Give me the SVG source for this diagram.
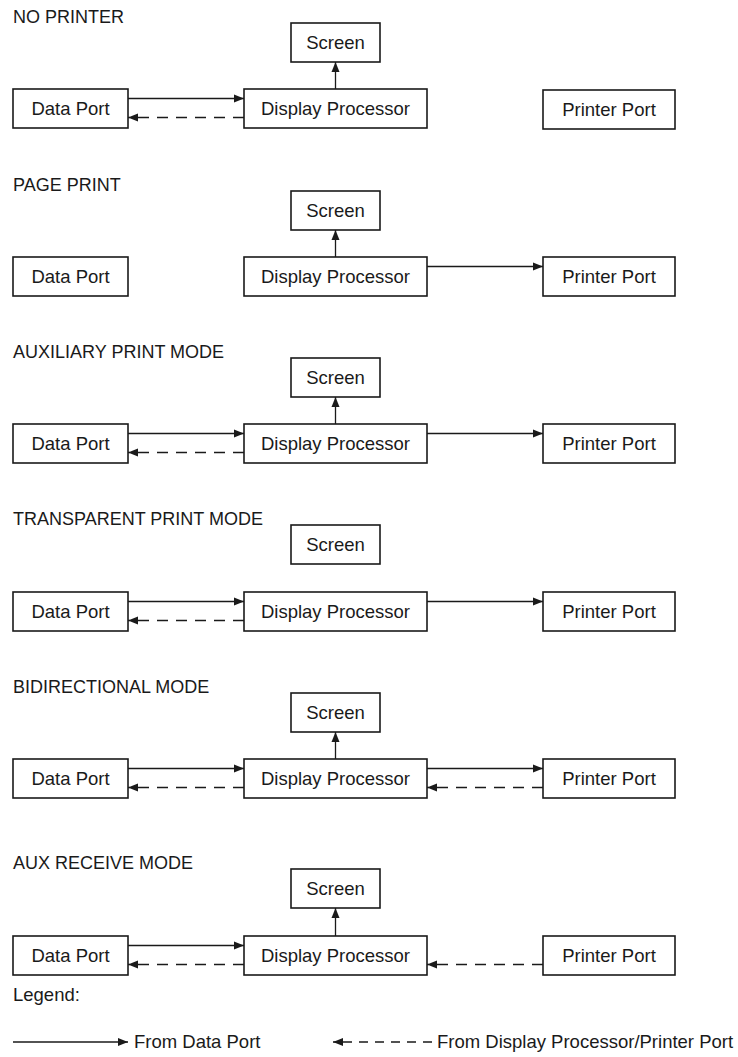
<svg xmlns="http://www.w3.org/2000/svg" width="738" height="1057" viewBox="0 0 738 1057">
<style>
text{font-family:"Liberation Sans",Arial,sans-serif;fill:#1a1a1a}
.t{font-size:18px}
.b{font-size:18.5px;text-anchor:middle}
.l{font-size:18.5px}
rect{fill:#fff;stroke:#1a1a1a;stroke-width:1.6}
.s{fill:none;stroke:#1a1a1a;stroke-width:1.3;marker-end:url(#ah)}
.d{fill:none;stroke:#1a1a1a;stroke-width:1.3;stroke-dasharray:11 8;marker-end:url(#ah)}
.dl{fill:none;stroke:#1a1a1a;stroke-width:1.3;stroke-dasharray:9 7;marker-end:url(#ah)}
</style>
<defs>
<marker id="ah" markerUnits="userSpaceOnUse" markerWidth="10" markerHeight="9" refX="10" refY="4.5" orient="auto">
<path d="M0,0.5 L10,4.5 L0,8.5 z" fill="#1a1a1a"/>
</marker>
</defs>
<rect x="0" y="0" width="738" height="1057" style="fill:#fff;stroke:none"/>

<g id="titles">
<text class="t" x="13" y="23">NO PRINTER</text>
<text class="t" x="13" y="191">PAGE PRINT</text>
<text class="t" x="13" y="358">AUXILIARY PRINT MODE</text>
<text class="t" x="13" y="525">TRANSPARENT PRINT MODE</text>
<text class="t" x="13" y="693">BIDIRECTIONAL MODE</text>
<text class="t" x="13" y="869">AUX RECEIVE MODE</text>
</g>

<!-- Section 1: NO PRINTER -->
<g id="s1-screen"><rect x="291" y="23" width="89" height="39"/><text class="b" x="335.5" y="49">Screen</text></g>
<g id="s1-data"><rect x="13" y="89" width="115" height="39"/><text class="b" x="70.5" y="115">Data Port</text></g>
<g id="s1-dp"><rect x="244" y="89" width="183" height="39"/><text class="b" x="335.5" y="115">Display Processor</text></g>
<g id="s1-pp"><rect x="543" y="90" width="132" height="39"/><text class="b" x="609" y="116">Printer Port</text></g>

<!-- Section 2: PAGE PRINT -->
<g id="s2-screen"><rect x="291" y="191" width="89" height="39"/><text class="b" x="335.5" y="217">Screen</text></g>
<g id="s2-data"><rect x="13" y="257" width="115" height="39"/><text class="b" x="70.5" y="283">Data Port</text></g>
<g id="s2-dp"><rect x="244" y="257" width="183" height="39"/><text class="b" x="335.5" y="283">Display Processor</text></g>
<g id="s2-pp"><rect x="543" y="257" width="132" height="39"/><text class="b" x="609" y="283">Printer Port</text></g>

<!-- Section 3: AUXILIARY PRINT MODE -->
<g id="s3-screen"><rect x="291" y="358" width="89" height="39"/><text class="b" x="335.5" y="384">Screen</text></g>
<g id="s3-data"><rect x="13" y="424" width="115" height="39"/><text class="b" x="70.5" y="450">Data Port</text></g>
<g id="s3-dp"><rect x="244" y="424" width="183" height="39"/><text class="b" x="335.5" y="450">Display Processor</text></g>
<g id="s3-pp"><rect x="543" y="424" width="132" height="39"/><text class="b" x="609" y="450">Printer Port</text></g>

<!-- Section 4: TRANSPARENT PRINT MODE -->
<g id="s4-screen"><rect x="291" y="525" width="89" height="39"/><text class="b" x="335.5" y="551">Screen</text></g>
<g id="s4-data"><rect x="13" y="592" width="115" height="39"/><text class="b" x="70.5" y="618">Data Port</text></g>
<g id="s4-dp"><rect x="244" y="592" width="183" height="39"/><text class="b" x="335.5" y="618">Display Processor</text></g>
<g id="s4-pp"><rect x="543" y="592" width="132" height="39"/><text class="b" x="609" y="618">Printer Port</text></g>

<!-- Section 5: BIDIRECTIONAL MODE -->
<g id="s5-screen"><rect x="291" y="693" width="89" height="39"/><text class="b" x="335.5" y="719">Screen</text></g>
<g id="s5-data"><rect x="13" y="759" width="115" height="39"/><text class="b" x="70.5" y="785">Data Port</text></g>
<g id="s5-dp"><rect x="244" y="759" width="183" height="39"/><text class="b" x="335.5" y="785">Display Processor</text></g>
<g id="s5-pp"><rect x="543" y="759" width="132" height="39"/><text class="b" x="609" y="785">Printer Port</text></g>

<!-- Section 6: AUX RECEIVE MODE -->
<g id="s6-screen"><rect x="291" y="869" width="89" height="39"/><text class="b" x="335.5" y="895">Screen</text></g>
<g id="s6-data"><rect x="13" y="936" width="115" height="39"/><text class="b" x="70.5" y="962">Data Port</text></g>
<g id="s6-dp"><rect x="244" y="936" width="183" height="39"/><text class="b" x="335.5" y="962">Display Processor</text></g>
<g id="s6-pp"><rect x="543" y="936" width="132" height="39"/><text class="b" x="609" y="962">Printer Port</text></g>

<g id="connectors">
<path class="s" d="M128,98.5 H244"/>
<path class="d" d="M244,117.5 H128"/>
<path class="s" d="M335.5,89 V62"/>

<path class="s" d="M335.5,257 V230"/>
<path class="s" d="M427,266.5 H543"/>

<path class="s" d="M128,433.5 H244"/>
<path class="d" d="M244,452.5 H128"/>
<path class="s" d="M335.5,424 V397"/>
<path class="s" d="M427,433.5 H543"/>

<path class="s" d="M128,601.5 H244"/>
<path class="d" d="M244,620.5 H128"/>
<path class="s" d="M427,601.5 H543"/>

<path class="s" d="M128,768.5 H244"/>
<path class="d" d="M244,787.5 H128"/>
<path class="s" d="M335.5,759 V732"/>
<path class="s" d="M427,768.5 H543"/>
<path class="d" d="M543,787.5 H427"/>

<path class="s" d="M128,945.5 H244"/>
<path class="d" d="M244,964.5 H128"/>
<path class="s" d="M335.5,936 V908"/>
<path class="d" d="M543,964.5 H427"/>
</g>

<g id="legend">
<text class="l" x="13" y="1001">Legend:</text>
<path class="s" d="M13,1042 H128"/>
<text class="l" x="134" y="1048">From Data Port</text>
<path class="dl" d="M432,1042 H333"/>
<text class="l" x="437" y="1048">From Display Processor/Printer Port</text>
</g>
</svg>
